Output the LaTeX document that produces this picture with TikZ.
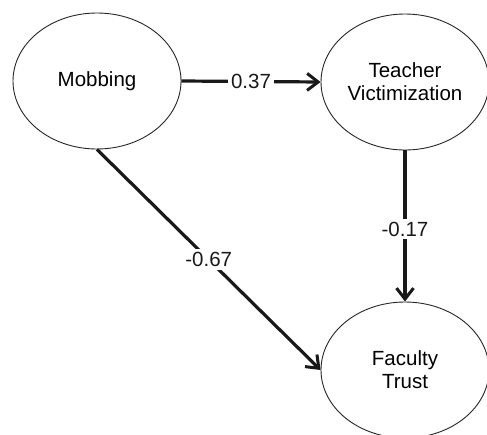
\documentclass[tikz,border=0pt]{standalone}
\usepackage{fontspec}
\setmainfont{Liberation Sans}
\usetikzlibrary{shapes.geometric,arrows.meta}
\begin{document}
\begin{tikzpicture}[x=1pt,y=-1pt,
  construct/.style={draw=black!85, line width=0.9pt, ellipse, fill=white,
    minimum width=168pt, minimum height=136pt, inner sep=0pt,
    align=center, font=\fontsize{20.5}{23}\selectfont},
  path/.style={line width=3.2pt, black!90,
    -{Straight Barb[length=11pt,width=17pt,line width=3pt]}},
  coef/.style={fill=white, inner sep=3pt, font=\fontsize{20.5}{23}\selectfont}]
  \clip (0,0) rectangle (487,434);
  \useasboundingbox (0,0) rectangle (487,434);
  \fill[white] (0,0) rectangle (487,434);

  % latent constructs
  \node[construct] (mob) at (97,81) {Mobbing};
  \node[construct] (tv) at (405,82) {Teacher\\Victimization};
  \node[construct] (ft) at (405,370) {Faculty\\Trust};

  % structural paths with their coefficients
  \draw[path] (mob.east) -- node[coef] {0.37} (tv.west);
  \draw[path] (tv.south) -- node[coef, pos=0.52] {-0.17} (ft.north);
  \draw[path] (mob.south) -- node[coef] {-0.67} (ft.west);
\end{tikzpicture}
\end{document}
